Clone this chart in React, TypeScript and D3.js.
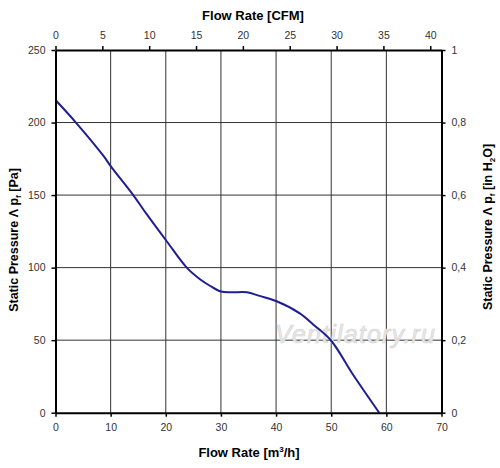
import React, { useEffect, useRef } from "react";
import * as d3 from "d3";

// fan curve: flow [m³/h] vs static pressure [Pa]
const flowM3h = [0, 3.7, 8.7, 10, 14.1, 16.5, 20.2, 23.8, 26.2, 28, 30, 32, 34.7, 37, 40, 44.3, 47, 50, 54, 58.7];
const pressurePa = [215.5, 200, 177, 170, 150, 137, 118, 100, 92, 87.5, 83.5, 83, 83, 80.5, 77, 68.5, 60, 49.6, 26, 0];

const bottomTicks = [0, 10, 20, 30, 40, 50, 60, 70];
const topTicks = [0, 5, 10, 15, 20, 25, 30, 35, 40];
const leftTicks = [0, 50, 100, 150, 200, 250];
const rightTicks = [0, 0.2, 0.4, 0.6, 0.8, 1];

const FONT = "'Liberation Sans', Arial, sans-serif";

const App: React.FC = () => {
  const svgRef = useRef<SVGSVGElement | null>(null);

  useEffect(() => {
    if (!svgRef.current) return;
    const width = 500;
    const height = 468;
    const margin = { top: 50, right: 58.5, bottom: 55.3, left: 55.5 };
    const iw = width - margin.left - margin.right;
    const ih = height - margin.top - margin.bottom;

    d3.select(svgRef.current).selectAll("*").remove();
    const svg = d3.select(svgRef.current).attr("width", width).attr("height", height);
    svg.append("rect").attr("width", width).attr("height", height).attr("fill", "#fff");

    const g = svg.append("g").attr("transform", `translate(${margin.left},${margin.top})`);

    const x = d3.scaleLinear().domain([0, 70]).range([0, iw]);
    const xCfm = d3.scaleLinear().domain([0, 70 / 1.699]).range([0, iw]);
    const y = d3.scaleLinear().domain([0, 250]).range([ih, 0]);
    const yIn = d3.scaleLinear().domain([0, 1]).range([ih, 0]);

    // grid
    g.append("g")
      .selectAll("line")
      .data(bottomTicks.slice(1, -1))
      .enter()
      .append("line")
      .attr("x1", (d) => x(d)).attr("x2", (d) => x(d))
      .attr("y1", 0).attr("y2", ih)
      .attr("stroke", "#333").attr("stroke-width", 1);
    g.append("g")
      .selectAll("line")
      .data(leftTicks.slice(1, -1))
      .enter()
      .append("line")
      .attr("y1", (d) => y(d)).attr("y2", (d) => y(d))
      .attr("x1", 0).attr("x2", iw)
      .attr("stroke", "#333").attr("stroke-width", 1);

    // watermark
    g.append("text")
      .attr("x", x(39.8)).attr("y", y(48))
      .attr("font-family", FONT).attr("font-style", "italic")
      .attr("font-size", 25)
      .attr("textLength", 160)
      .attr("fill", "#e8e8e8").attr("stroke", "#d4d4d4").attr("stroke-width", 0.6)
      .text("Ventilatory.ru");

    // curve
    const pts: [number, number][] = flowM3h.map((f, i) => [f, pressurePa[i]]);
    const line = d3.line<[number, number]>()
      .x((d) => x(d[0]))
      .y((d) => y(d[1]))
      .curve(d3.curveCatmullRom.alpha(0.5));
    g.append("path")
      .attr("d", line(pts))
      .attr("fill", "none")
      .attr("stroke", "#1f1f8f")
      .attr("stroke-width", 2);

    const styleAxis = (sel: d3.Selection<SVGGElement, unknown, null, undefined>) => {
      sel.select(".domain").attr("stroke", "#000").attr("stroke-width", 2);
      sel.selectAll(".tick line").attr("stroke", "#000").attr("stroke-width", 1.5);
      sel.selectAll(".tick text")
        .attr("fill", "#333")
        .attr("font-family", FONT)
        .attr("font-size", 10.5);
    };

    const comma = (v: d3.NumberValue) => {
      const n = +v;
      return n === 0 || n === 1 ? String(n) : n.toFixed(1).replace(".", ",");
    };

    const bottom = g.append("g").attr("transform", `translate(0,${ih})`)
      .call(d3.axisBottom(x).tickValues(bottomTicks).tickSize(4).tickSizeOuter(0).tickPadding(7));
    styleAxis(bottom);
    const top = g.append("g")
      .call(d3.axisTop(xCfm).tickValues(topTicks).tickSize(4).tickSizeOuter(0).tickPadding(7));
    styleAxis(top);
    const left = g.append("g")
      .call(d3.axisLeft(y).tickValues(leftTicks).tickSize(4).tickSizeOuter(0).tickPadding(6));
    styleAxis(left);
    const right = g.append("g").attr("transform", `translate(${iw},0)`)
      .call(d3.axisRight(yIn).tickValues(rightTicks).tickFormat(comma).tickSize(4).tickSizeOuter(0).tickPadding(6));
    styleAxis(right);

    // titles
    svg.append("text")
      .attr("x", 253).attr("y", 20)
      .attr("text-anchor", "middle")
      .attr("font-family", FONT).attr("font-weight", "bold").attr("font-size", 13)
      .text("Flow Rate [CFM]");

    const bt = svg.append("text")
      .attr("x", 249).attr("y", 457)
      .attr("text-anchor", "middle")
      .attr("font-family", FONT).attr("font-weight", "bold").attr("font-size", 13);
    bt.append("tspan").text("Flow Rate [m");
    bt.append("tspan").attr("dy", -5).attr("font-size", 8).text("3");
    bt.append("tspan").attr("dy", 5).text("/h]");

    const lt = svg.append("text")
      .attr("transform", "translate(18,240) rotate(-90)")
      .attr("text-anchor", "middle")
      .attr("font-family", FONT).attr("font-weight", "bold").attr("font-size", 12.5);
    lt.append("tspan").text("Static Pressure Λ p");
    lt.append("tspan").attr("dy", 3).attr("font-size", 8).text("f");
    lt.append("tspan").attr("dy", -3).text(" [Pa]");

    const rt = svg.append("text")
      .attr("transform", "translate(492,227) rotate(-90)")
      .attr("text-anchor", "middle")
      .attr("font-family", FONT).attr("font-weight", "bold").attr("font-size", 12.5);
    rt.append("tspan").text("Static Pressure Λ p");
    rt.append("tspan").attr("dy", 3).attr("font-size", 8).text("f");
    rt.append("tspan").attr("dy", -3).text(" [in H");
    rt.append("tspan").attr("dy", 3).attr("font-size", 8).text("2");
    rt.append("tspan").attr("dy", -3).text("O]");
  }, []);

  return <svg ref={svgRef} style={{ position: "absolute", left: 0, top: 0 }}></svg>;
};

export default App;
